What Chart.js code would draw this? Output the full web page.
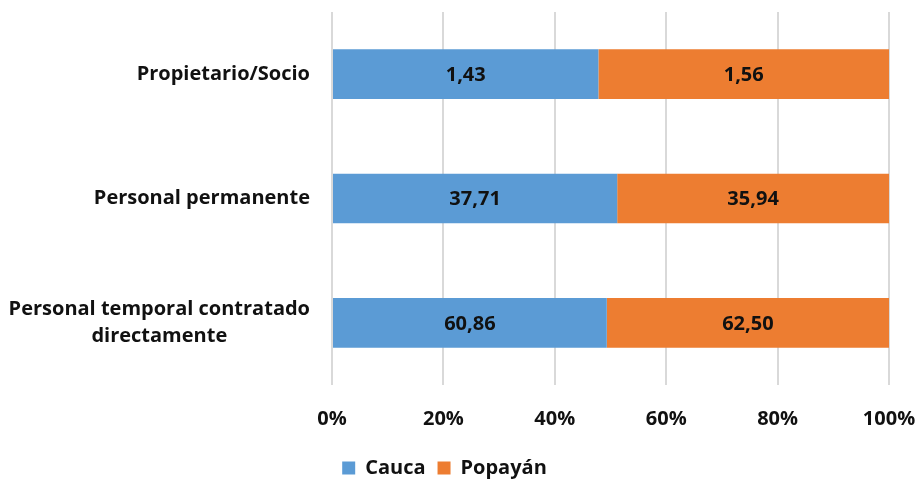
<!DOCTYPE html>
<html>
<head>
<meta charset="utf-8">
<script src="https://cdn.jsdelivr.net/npm/chart.js@4.4.0/dist/chart.umd.min.js"></script>
<style>
    html, body { margin: 0; padding: 0; background: #fff; }
    #wrap { width: 917px; height: 480px; }
</style>
</head>
<body>
<div id="wrap"><canvas id="chart"></canvas></div>
<script>
const categories = [
    ["Propietario/Socio"],
    ["Personal permanente"],
    ["Personal temporal contratado", "directamente"]
];
const cauca = [1.43, 37.71, 60.86];
const popayan = [1.56, 35.94, 62.50];
const seriesNames = ["Cauca", "Popayán"];

const FONT = "'Open Sans', 'Noto Sans', sans-serif";
const FSIZE = 20;

// share of each row, so the bars fill 100%
const caucaPct = cauca.map((v, i) => v / (v + popayan[i]) * 100);
const popayanPct = popayan.map((v, i) => v / (cauca[i] + v) * 100);
const rawValues = [cauca, popayan];

const fmt = v => v.toFixed(2).replace(".", ",");

// value labels inside each bar segment
const valueLabels = {
    id: "valueLabels",
    afterDatasetsDraw(chart) {
        const ctx = chart.ctx;
        ctx.save();
        ctx.font = "bold " + FSIZE + "px " + FONT;
        ctx.fillStyle = "#111";
        ctx.textAlign = "center";
        ctx.textBaseline = "middle";
        chart.data.datasets.forEach((ds, di) => {
            chart.getDatasetMeta(di).data.forEach((bar, i) => {
                const x = (bar.x + bar.base) / 2;
                ctx.fillText(fmt(rawValues[di][i]), x, bar.y + 1);
            });
        });
        ctx.restore();
    }
};

// category labels: block right-aligned, lines centred inside it
const categoryLabels = {
    id: "categoryLabels",
    afterDraw(chart) {
        const ctx = chart.ctx;
        const y = chart.scales.y;
        ctx.save();
        ctx.font = "bold " + FSIZE + "px " + FONT;
        ctx.fillStyle = "#111";
        ctx.textAlign = "center";
        ctx.textBaseline = "middle";
        const right = 310;
        const lh = 27;
        categories.forEach((lines, i) => {
            const w = Math.max(...lines.map(l => ctx.measureText(l).width));
            const cx = right - w / 2;
            const cy = y.getPixelForValue(i);
            lines.forEach((l, k) => {
                ctx.fillText(l, cx, cy + (k - (lines.length - 1) / 2) * lh);
            });
        });
        ctx.restore();
    }
};

new Chart(document.getElementById("chart"), {
    type: "bar",
    data: {
        labels: categories.map(c => c.join(" ")),
        datasets: [{
            label: seriesNames[0],
            data: caucaPct,
            backgroundColor: "#5B9BD5",
            categoryPercentage: 1,
            barPercentage: 0.4
        }, {
            label: seriesNames[1],
            data: popayanPct,
            backgroundColor: "#ED7D31",
            categoryPercentage: 1,
            barPercentage: 0.4
        }]
    },
    options: {
        indexAxis: "y",
        responsive: true,
        maintainAspectRatio: false,
        animation: false,
        layout: { padding: { top: 12, right: 28, left: 0, bottom: -8 } },
        scales: {
            x: {
                stacked: true,
                min: 0,
                max: 100,
                border: { display: false },
                grid: { color: "#d9d9d9", lineWidth: 2, drawTicks: false },
                ticks: {
                    stepSize: 20,
                    padding: 22,
                    color: "#111",
                    font: { family: FONT, size: FSIZE, weight: "bold" },
                    callback: v => v + "%"
                },
                afterFit: s => { s.height = 61; s.paddingRight = 0; s.paddingLeft = 0; }
            },
            y: {
                stacked: true,
                border: { display: false },
                grid: { display: false },
                ticks: { display: false },
                afterFit: s => { s.width = 332; }
            }
        },
        plugins: {
            legend: {
                position: "bottom",
                labels: {
                    boxWidth: 13,
                    boxHeight: 13,
                    padding: 12,
                    color: "#111",
                    font: { family: FONT, size: FSIZE, weight: "bold" }
                }
            },
            tooltip: { enabled: false }
        }
    },
    plugins: [valueLabels, categoryLabels]
});
</script>
</body>
</html>
